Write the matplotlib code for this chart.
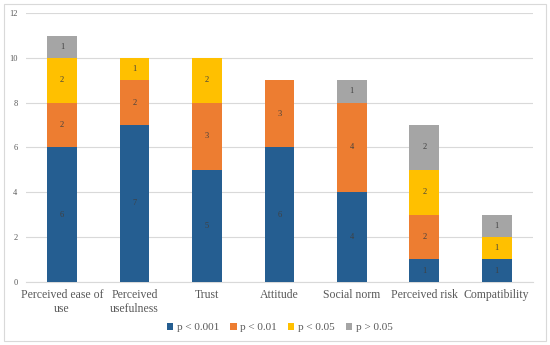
import matplotlib
matplotlib.use("Agg")
import matplotlib.pyplot as plt
from matplotlib.patches import Rectangle
import numpy as np

plt.rcParams['font.family'] = ['Liberation Serif', 'DejaVu Serif']

# Data
categories = ['Perceived ease of\nuse', 'Perceived\nusefulness', 'Trust', 'Attitude',
              'Social norm', 'Perceived risk', 'Compatibility']
p001 = [6, 7, 5, 6, 4, 1, 1]
p01 = [2, 2, 3, 3, 4, 2, 0]
p05 = [2, 1, 2, 0, 0, 2, 1]
pns = [1, 0, 0, 0, 1, 2, 1]
series_names = ['p < 0.001', 'p < 0.01', 'p < 0.05', 'p > 0.05']
colors = ['#255E91', '#ED7D31', '#FFC000', '#A5A5A5']

fig = plt.figure(figsize=(5.5, 3.45), dpi=100)
ax = fig.add_axes([0.047, 0.183, 0.922, 0.779])

x = np.arange(len(categories))
bottom = np.zeros(len(categories))
for vals, name, col in zip([p001, p01, p05, pns], series_names, colors):
    vals = np.array(vals)
    ax.bar(x, vals, 0.41, bottom=bottom, color=col, label=name, zorder=3)
    for xi, v, b in zip(x, vals, bottom):
        if v > 0:
            ax.text(xi, b + v / 2, str(v), ha='center', va='center',
                    fontsize=6, color='#404040', zorder=4)
    bottom += vals

ax.set_xlim(-0.5, len(categories) - 0.5)
ax.set_ylim(0, 12)
ax.set_yticks(range(0, 13, 2))
ax.grid(axis='y', color='#D9D9D9', linewidth=0.8, zorder=0)
for s in ['top', 'right', 'left']:
    ax.spines[s].set_visible(False)
ax.spines['bottom'].set_color('#D9D9D9')
ax.tick_params(axis='both', length=0, colors='#595959')
ax.tick_params(axis='y', labelsize=6, pad=6)
ax.tick_params(axis='x', labelsize=8.5, pad=5)
ax.set_xticks(x)
ax.set_xticklabels(categories, linespacing=1.25)

ax.legend(loc='upper center', bbox_to_anchor=(0.5, -0.115), ncol=4, frameon=False,
          fontsize=8, handlelength=0.6, handleheight=0.6, handletextpad=0.3,
          columnspacing=1.0, labelcolor='#595959')

fig.patches.append(Rectangle((0.008, 0.012), 0.984, 0.976, transform=fig.transFigure,
                             fill=False, edgecolor='#D9D9D9', linewidth=0.8))

plt.savefig('out.png', dpi=100)
